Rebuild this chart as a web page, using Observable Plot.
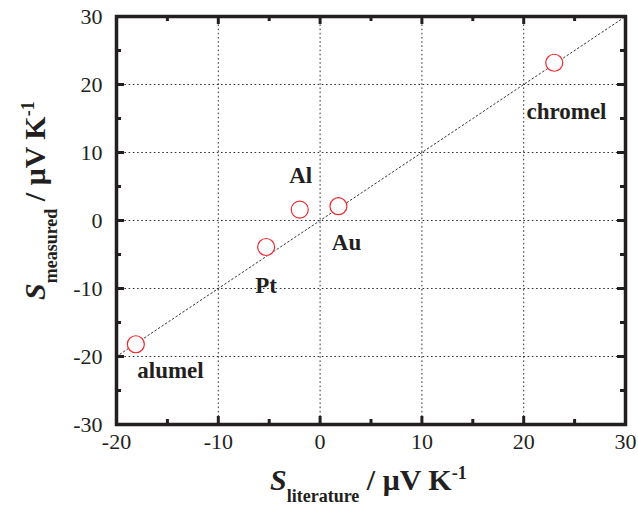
<!DOCTYPE html>
<html><head><meta charset="utf-8">
<script src="https://cdn.jsdelivr.net/npm/d3@7"></script>
<script src="https://cdn.jsdelivr.net/npm/@observablehq/plot@0.6"></script>
<style>body{margin:0;background:#fff} svg text{font-family:'Liberation Serif','Times New Roman',serif}</style>
</head><body><div id="chart"></div>
<script>
// Data
const materials = ["alumel", "Pt", "Al", "Au", "chromel"];
const sLiterature = [-18.1, -5.3, -2.0, 1.8, 23.0];
const sMeasured = [-18.2, -3.9, 1.6, 2.1, 23.2];
// annotation anchor points (data units)
const labelX = [-14.7, -5.3, -1.9, 2.6, 24.2];
const labelY = [-22.1, -9.6, 6.6, -3.2, 16.0];

const xDomain = [-20, 30];
const yDomain = [-30, 30];
const xTicks = [-20, -10, 0, 10, 20, 30];
const yTicks = [-30, -20, -10, 0, 10, 20, 30];
const xMinor = [-15, -5, 5, 15, 25];
const yMinor = [-25, -15, -5, 5, 15, 25];
const identityLine = [-20, 30];

const ink = "#231f20";
const font = "'Liberation Serif', 'Times New Roman', serif";
const fmt = d => (d < 0 ? "-" + Math.abs(d) : String(d));
const xInner = xTicks.filter(v => v > xDomain[0] && v < xDomain[1]);
const yInner = yTicks.filter(v => v > yDomain[0] && v < yDomain[1]);
const points = materials.map((m, i) => ({m, x: sLiterature[i], y: sMeasured[i]}));
const labels = materials.map((m, i) => ({m, x: labelX[i], y: labelY[i]}));
const dash = "1.6,2.6";

const plot = Plot.plot({
  width: 638,
  height: 508,
  marginLeft: 116,
  marginRight: 13,
  marginTop: 16,
  marginBottom: 84,
  style: {fontFamily: font, fontSize: "22px", color: ink, background: "#fff"},
  x: {domain: xDomain, ticks: xTicks, tickSize: 0, tickPadding: 9, tickFormat: fmt, label: null},
  y: {domain: yDomain, ticks: yTicks, tickSize: 0, tickPadding: 14, tickFormat: fmt, label: null},
  marks: [
    Plot.ruleX(xInner, {x: d => d, stroke: "#333", strokeWidth: 1, strokeDasharray: dash}),
    Plot.ruleY(yInner, {y: d => d, stroke: "#333", strokeWidth: 1, strokeDasharray: dash}),
    Plot.line(identityLine.map(v => ({x: v, y: v})), {x: "x", y: "y", stroke: "#333", strokeWidth: 1, strokeDasharray: dash}),
    Plot.dot(points, {x: "x", y: "y", r: 8.5, stroke: "#ee2a2f", strokeWidth: 1.2, fill: "white"}),
    Plot.text(labels, {x: "x", y: "y", text: "m", fontWeight: "bold", fontSize: 23, fill: ink}),
    // major ticks (inward) bottom / top
    Plot.ruleX(xInner, {x: d => d, y1: yDomain[0], y2: yDomain[0], insetBottom: 8, stroke: ink, strokeWidth: 3}),
    Plot.ruleX(xInner, {x: d => d, y1: yDomain[1], y2: yDomain[1], insetTop: 8, stroke: ink, strokeWidth: 3}),
    Plot.ruleX(xMinor, {x: d => d, y1: yDomain[0], y2: yDomain[0], insetBottom: 5, stroke: ink, strokeWidth: 3}),
    Plot.ruleX(xMinor, {x: d => d, y1: yDomain[1], y2: yDomain[1], insetTop: 5, stroke: ink, strokeWidth: 3}),
    // left / right
    Plot.ruleY(yInner, {y: d => d, x1: xDomain[0], x2: xDomain[0], insetRight: -8, stroke: ink, strokeWidth: 3}),
    Plot.ruleY(yInner, {y: d => d, x1: xDomain[1], x2: xDomain[1], insetLeft: -8, stroke: ink, strokeWidth: 3}),
    Plot.ruleY(yMinor, {y: d => d, x1: xDomain[0], x2: xDomain[0], insetRight: -5, stroke: ink, strokeWidth: 3}),
    Plot.ruleY(yMinor, {y: d => d, x1: xDomain[1], x2: xDomain[1], insetLeft: -5, stroke: ink, strokeWidth: 3}),
    Plot.frame({stroke: ink, strokeWidth: 3.5})
  ]
});

const svg = d3.select(plot);
svg.selectAll("text").attr("font-family", font);
// x-axis title
const xt = svg.append("text").attr("x", 270).attr("y", 490).attr("text-anchor", "start")
  .attr("font-family", font).attr("font-weight", "bold").attr("fill", ink);
xt.append("tspan").attr("font-style", "italic").attr("font-size", 30).text("S");
xt.append("tspan").attr("font-size", 18).attr("dy", 12).text("literature");
xt.append("tspan").attr("font-size", 30).attr("dy", -12).text(" / μV K");
xt.append("tspan").attr("font-size", 18).attr("dy", -11).text("-1");
// y-axis title
const yt = svg.append("text").attr("transform", "rotate(-90)").attr("x", -300).attr("y", 45).attr("text-anchor", "start")
  .attr("font-family", font).attr("font-weight", "bold").attr("fill", ink);
yt.append("tspan").attr("font-style", "italic").attr("font-size", 30).text("S");
yt.append("tspan").attr("font-size", 18).attr("dy", 12).text("measured");
yt.append("tspan").attr("font-size", 30).attr("dy", -12).text(" / μV K");
yt.append("tspan").attr("font-size", 18).attr("dy", -11).text("-1");

document.getElementById("chart").appendChild(plot);
</script>
</body></html>
